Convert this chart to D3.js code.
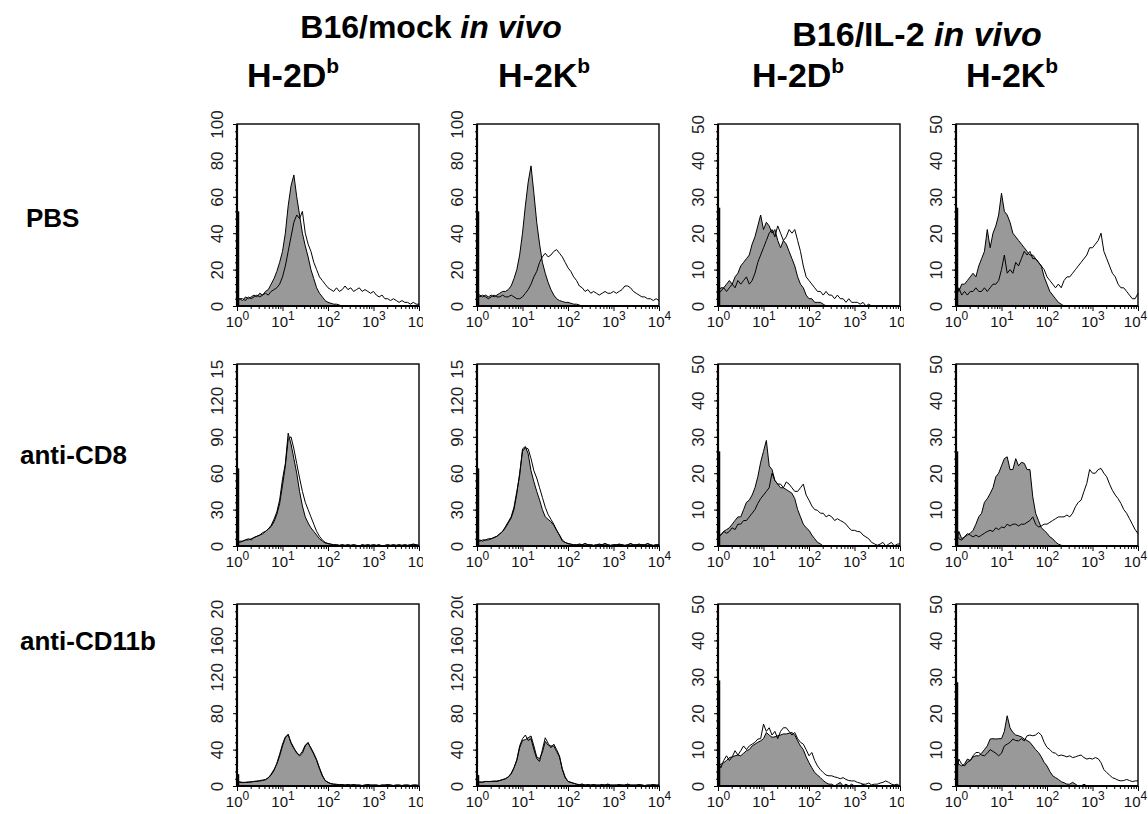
<!DOCTYPE html>
<html>
<head>
<meta charset="utf-8">
<script src="https://cdn.jsdelivr.net/npm/d3@7"></script>
<style>
  body { margin: 0; background: #fff; }
</style>
</head>
<body>
<script>
// ---- labels ----
const groupTitles = ["B16/mock", "B16/IL-2"];
const columnMarkers = ["H-2D", "H-2K", "H-2D", "H-2K"];
const rowLabels = ["PBS", "anti-CD8", "anti-CD11b"];

// ---- axes ----
const xTicks = [1, 10, 100, 1000, 10000];
const yTicks50 = [0, 10, 20, 30, 40, 50];
const yTicks100 = [0, 20, 40, 60, 80, 100];
const yTicks150 = [0, 30, 60, 90, 120, 150];
const yTicks200 = [0, 40, 80, 120, 160, 200];

// histogram channels, 16 per decade, 10^0 .. 10^4
const channels = d3.range(65).map(i => Math.pow(10, i / 16));

// ---- counts (gray = filled, line = open) ----
// PBS
const fillPbsMockD = [3,4,3,5,4,5,6,5, 7,6,8,9,12,15,19,24, 30,40,55,66,72,60,50,40, 33,27,20,15,10,7,5,3, 2,1.5,1,1,0.5,0,0,0, 0,0,0,0,0,0,0,0, 0,0,0,0,0,0,0,0, 0,0,0,0,0,0,0,0,0];
const linePbsMockD = [3,4,4,3,5,4,5,6, 5,6,7,6,8,9,10,12, 16,22,30,38,46,50,48,52, 40,34,30,24,20,16,14,12, 10,9,8,10,8,9,11,9, 10,8,9,10,8,9,8,7, 8,6,5,6,4,4,3,4, 3,2,3,2,2,1,2,1,1];
const fillPbsMockK = [7,6,5,6,5,6,5,6, 7,8,8,9,11,15,20,28, 40,55,68,77,62,46,34,24, 18,13,9,6,4,3,2.5,2, 2,1.5,1,1,0.5,0,0,0, 0,0,0,0,0,0,0,0, 0,0,0,0,0,0,0,0, 0,0,0,0,0,0,0,0,0];
const linePbsMockK = [6,5,6,5,4,5,6,5, 5,6,5,5,6,5,4,4, 5,7,9,12,16,19,24,27, 29,27,28,30,31,29,27,24, 21,19,16,14,11,10,8,9, 7,8,7,6,7,8,7,7, 8,7,8,9,11,11,10,8, 7,6,5,5,4,4,3,4,3];
const fillPbsIl2D = [4,5,5,6,7,6,8,9, 11,12,13,14,17,19,22,25, 21,23,22,20,21,18,16,18, 17,15,13,11,8,6,5,3, 2,2,1,1,1,0.5,0,0, 0,0,0,0,0,0,0,0, 0,0,0,0,0,0,0,0, 0,0,0,0,0,0,0,0,0];
const linePbsIl2D = [4,4,5,4,5,6,5,7, 6,7,8,6,7,9,12,14, 16,18,20,21,19,22,20,18, 19,21,20,21,18,15,11,8, 7,6,5,4,4,3,4,3, 3,2,3,2,2,1,2,1, 1,1,0.5,1,0,0.5,0,0, 0,0,0,0,0,0,0,0,0];
const fillPbsIl2K = [5,4,6,6,7,8,9,8, 11,13,15,21,16,20,22,25, 31,26,25,23,20,19,18,17, 16,15,14,14,13,12,11,8, 6,4,3,2,1,0.5,0,0, 0,0,0,0,0,0,0,0, 0,0,0,0,0,0,0,0, 0,0,0,0,0,0,0,0,0];
const linePbsIl2K = [2,5,3,4,3,4,4,5, 4,4,5,4,5,6,6,7, 10,14,9,10,9,12,11,13, 15,14,15,13,13,12,11,10, 8,7,6,5,6,5,7,8, 8,9,10,11,12,13,14,16, 16,17,18,20,15,13,11,9, 8,6,5,5,4,3,2,2,3.5];
// anti-CD8
const fillCd8MockD = [4,3,4,5,5,6,7,8, 9,10,12,14,17,22,28,38, 55,68,93,84,72,60,45,33, 24,19,15,12,9,6,4,2.5, 2,1.5,1,1,0.5,1,0.5,1, 0.5,1,0.5,0,1,0.5,1,0.5, 1,0.5,1,0,0.5,1,0.5,1, 0.5,1,0.5,1,0.5,1,1.5,1,0.5];
const lineCd8MockD = [3,4,4,5,6,5,7,8, 9,11,12,14,16,20,26,35, 50,66,88,90,80,68,56,45, 36,30,24,18,12,8,5,3, 2,1.5,1,1,0.5,1,0.5,1, 0.5,1,0.5,0,1,0.5,1,0.5, 1,0.5,1,0,0.5,1,0.5,1, 0.5,1,0.5,1,0.5,1,1.5,1,0.5];
const fillCd8MockK = [4,5,4,5,5,6,7,8, 10,12,16,20,24,32,45,58, 80,82,76,62,53,45,38,30, 24,22,20,17,13,9,4,3, 2,1.5,1,1,1.5,1,2,1, 1,0.5,1,1.5,1,2,1,0.5, 1,1,1.5,1,0.5,1,2,1, 1,1.5,1,1,2,1,0.5,1,1];
const lineCd8MockK = [4,4,5,5,6,6,7,8, 10,12,15,19,23,30,43,60, 78,81,80,72,62,56,48,40, 32,26,22,18,13,9,5,3, 2,1.5,1,1,1.5,1,2,1, 1,0.5,1,1.5,1,2,1,0.5, 1,1,1.5,1,0.5,1,2,1, 1,1.5,1,1,2,1,0.5,1,1];
const fillCd8Il2D = [3.4,3,4,4.5,5,6,7,8, 8,10,12,12.6,14,16,19,23, 26,29,22,21,18,17,16,16, 15.5,15,14.5,13,10,8,6,5, 4.3,3,2,1,0.6,0,0,0, 0,0,0,0,0,0,0,0, 0,0,0,0,0,0,0,0, 0,0,0,0,0,0,0,0,0];
const lineCd8Il2D = [2.5,3,4,3.5,4,5,4.5,6, 6,7,7,8,9,10,11.7,13, 14,15,16,20,18,17,17,16, 17.6,17,16,15,15,16,17,14, 12.6,11,10,9.8,9,9,8,8.5, 8,7,7.5,7,6.6,6,5,4.3, 4.3,4,3.9,3,2.5,2,1,0.6, 0.2,0.5,1,0,0.5,1,0,0.5,0.6];
const fillCd8Il2K = [0.6,4,2,2.5,3,3.5,4.3,6, 8,9,12,13,14.4,16,19,20, 22,24,24.5,21,21,24,22,23, 22.7,21,21,13.5,9,7,5,4.3, 3.5,2.5,2,1.1,0.5,0.2,0,0, 0,0,0,0,0,0,0,0, 0,0,0,0,0,0,0,0, 0,0,0,0,0,0,0,0,0];
const lineCd8Il2K = [3.4,2,1.6,2.5,3.4,3,2.5,3, 2.5,3,3.5,4,4.3,4,5,4.5, 5.2,5,6,5.5,6,6,5.5,6, 6,6.5,7,8,6,5.2,5.5,6, 6,6.5,7,7.5,8,8,8,8.5, 8,9,10.8,12,12.6,15,17.2,21, 20,20,21,21.3,20,19,17,15.3, 14,13,11.7,10,9,7.5,6,4.5,3.4];
// anti-CD11b
const fillCd11bMockD = [5.5,4,3.7,4,4,4.5,5,5.5, 5.5,6,7,9,13,18,24,33, 44,53,57,47,41,37,33,36, 44,48,41,35,28,19,11,6, 4,2.6,2,1.8,1.5,1.5,1,1.5, 1,1.5,1,1,0.5,1,1.5,1, 1,1,0.5,1,1,1.5,1,0.5, 1,1,0.5,1,1,0.5,1,1,0.5];
const lineCd11bMockD = [5,4.5,4,4,4.5,4.5,5,5, 6,6.5,7,9,12,17,25,35, 46,54,56,48,42,36,34,38, 45,47,42,36,29,20,12,6, 4,2.6,2,1.8,1.5,1.5,1,1.5, 1,1.5,1,1,0.5,1,1.5,1, 1,1,0.5,1,1,1.5,1,0.5, 1,1,0.5,1,1,0.5,1,1,0.5];
const fillCd11bMockK = [4.8,4,4.5,5,4.8,5,5,5.5, 6,7,8,10,14,20,28,42, 50,51,53,55,44,32,30,37, 49,45,44,44,38,32,19,10, 5,4,3,2,1.5,2,1,1.5, 1,1.5,1,1,1.5,1,2,1, 1,1,1.5,1,1,2,1,1, 1,1.5,1,0.5,1,1,1.5,1,1];
const lineCd11bMockK = [4.5,4.5,4,5,5,5,5.5,5, 6,7,8,10,13,20,29,44, 52,56,50,52,40,30,27,40, 53,47,42,46,40,33,18,9, 5,4,3,2,1.5,2,1,1.5, 1,1.5,1,1,1.5,1,2,1, 1,1,1.5,1,1,2,1,1, 1,1.5,1,0.5,1,1,1.5,1,1];
const fillCd11bIl2D = [5.5,6,6.4,7,7.8,8,8.3,8.5, 8.3,9,9.7,10,11,11.5,12,12.4, 13,14.7,14,13.4,13.5,13.8,14,14.3, 14.3,14.5,14.7,14,12.4,11,10,8, 6.4,5,3.7,3,2.3,1.5,0.9,0.5, 0.5,0,0.5,1,0,0.5,0,0.5, 0,0,0,0.5,0,0,0,0, 0,0,0,0,0,0,0,0,0];
const lineCd11bIl2D = [6.4,5,7,8.3,7,8,9.7,8.5, 9.7,11,10,11,11.5,12,12.9,13, 17,15,16,14,15,13,15,16, 16,15,14,14.7,13,12,11.5,10, 8.3,9.2,7,5.5,4.5,3.7,3,2.8, 2.8,2.5,2.3,2,2.3,1.8,1.5,1.4, 1.4,1,0.8,0.5,0.5,0.8,0.3,0.5, 0.5,0.8,1,1.4,1,0.5,0.3,0.5,0];
const fillCd11bIl2K = [7.4,6,5.5,6,7.4,7,8,8.3, 8.3,9,10,11,12.9,13,12.9,13, 13,15,19.3,16,14.7,14,13.8,13.5, 12.9,12.5,12,11,10,9.2,8,6.5, 5.5,4,2.8,2.3,1.8,1.2,0.9,0.5, 0.5,1,0.5,0,0,0.5,0,0, 0,0,0,0,0,0,0,0, 0,0,0,0,0,0,0,0,0];
const lineCd11bIl2K = [2.8,7.4,6,5.5,6.5,7,8.3,9.2, 9.2,8.5,8.3,9,10,9.5,9,8.3, 9,11,11.5,12,12.9,12.5,12.4,13, 12.4,13.8,14,13.8,14,14.7,14,12, 10.6,10,9.2,9,8.3,8.5,8.3,8, 8.3,7.8,8,8.3,8.5,7.8,7.4,7.6, 7.4,7.8,7.5,6.4,4.5,3.7,3,2.3, 2,1.6,1.4,1.5,1.8,1.5,1.2,1.4,1.4];

// pile-up in the first channel (drawn on the left axis)
const firstChannel = [[52, 52, 27, 27], [64, 64, 26, 26], [13, 12, 29, 28.5]];

const fills = [
  [fillPbsMockD, fillPbsMockK, fillPbsIl2D, fillPbsIl2K],
  [fillCd8MockD, fillCd8MockK, fillCd8Il2D, fillCd8Il2K],
  [fillCd11bMockD, fillCd11bMockK, fillCd11bIl2D, fillCd11bIl2K]
];
const lines = [
  [linePbsMockD, linePbsMockK, linePbsIl2D, linePbsIl2K],
  [lineCd8MockD, lineCd8MockK, lineCd8Il2D, lineCd8Il2K],
  [lineCd11bMockD, lineCd11bMockK, lineCd11bIl2D, lineCd11bIl2K]
];
const yTicksFor = [
  [yTicks100, yTicks100, yTicks50, yTicks50],
  [yTicks150, yTicks150, yTicks50, yTicks50],
  [yTicks200, yTicks200, yTicks50, yTicks50]
];

// ---- layout ----
const width = 1148, height = 814;
const colX = [237, 477, 718, 956];
const rowY = [124, 364, 604];
const pw = 182, ph = 182;
// how much of the top y label / last x label survives (the source tiles were cropped)
const yLabelRoom = [[20, 20, 20, 20], [5, 5, 20, 20], [5, 8, 20, 20]];
const xLabelRoom = [4, 20, 4, 20];

const font = "'Liberation Sans', Arial, Helvetica, sans-serif";

const svg = d3.select("body").append("svg")
  .attr("width", width)
  .attr("height", height)
  .attr("viewBox", [0, 0, width, height])
  .style("font-family", font);

svg.append("rect").attr("width", width).attr("height", height).attr("fill", "#fff");

// group titles
const titleCenters = [431, 917];
const titleBaselines = [38, 46];
const titleSizes = [32, 34];
groupTitles.forEach((t, i) => {
  const txt = svg.append("text")
    .attr("x", titleCenters[i])
    .attr("y", titleBaselines[i])
    .attr("text-anchor", "middle")
    .attr("font-size", titleSizes[i])
    .attr("font-weight", "bold");
  txt.append("tspan").text(t + " ");
  txt.append("tspan").attr("font-style", "italic").text("in vivo");
});

// column markers with superscript b
const markerLeft = [247, 498, 752, 966];
columnMarkers.forEach((m, i) => {
  const txt = svg.append("text")
    .attr("x", markerLeft[i])
    .attr("y", 87)
    .attr("font-size", 34)
    .attr("font-weight", "bold");
  txt.append("tspan").text(m);
  txt.append("tspan").attr("font-size", 21).attr("dy", -14).text("b");
});

// row labels
const rowBaselines = [227, 464, 650];
const rowLeft = [26, 20, 20];
rowLabels.forEach((r, i) => {
  svg.append("text")
    .attr("x", rowLeft[i])
    .attr("y", rowBaselines[i])
    .attr("font-size", 26)
    .attr("font-weight", "bold")
    .text(r);
});

const xScale = d3.scaleLog().domain([1, 1e4]).range([0, pw]);
const xMinor = [];
xTicks.slice(0, -1).forEach(d => { for (let k = 2; k < 10; k++) xMinor.push(d * k); });

let clipId = 0;

for (let r = 0; r < 3; r++) {
  for (let c = 0; c < 4; c++) {
    const ticks = yTicksFor[r][c];
    const yMax = ticks[ticks.length - 1];
    const yScale = d3.scaleLinear().domain([0, yMax]).range([ph, 0]);
    const step = ticks[1] - ticks[0];
    const yMinor = d3.range(0, yMax + step / 10, step / 5);

    const g = svg.append("g").attr("transform", `translate(${colX[c]},${rowY[r]})`);

    const area = d3.area()
      .x((d, i) => xScale(channels[i]))
      .y0(ph)
      .y1(d => yScale(d));
    const line = d3.line()
      .x((d, i) => xScale(channels[i]))
      .y(d => yScale(d));

    g.append("path")
      .datum(fills[r][c])
      .attr("d", area)
      .attr("fill", "#999")
      .attr("stroke", "#000")
      .attr("stroke-width", 1)
      .attr("stroke-linejoin", "round");

    g.append("path")
      .datum(lines[r][c])
      .attr("d", line)
      .attr("fill", "none")
      .attr("stroke", "#000")
      .attr("stroke-width", 1)
      .attr("stroke-linejoin", "round");

    // first channel pile-up
    g.append("line")
      .attr("x1", xScale(1) + 1).attr("x2", xScale(1) + 1)
      .attr("y1", yScale(0)).attr("y2", yScale(firstChannel[r][c]))
      .attr("stroke", "#000")
      .attr("stroke-width", 2.5);

    // frame
    g.append("rect")
      .attr("width", pw).attr("height", ph)
      .attr("fill", "none")
      .attr("stroke", "#000")
      .attr("stroke-width", 1.4);

    // y axis
    g.append("g")
      .call(d3.axisLeft(yScale).tickValues(yMinor).tickSize(2).tickFormat(""))
      .call(a => a.select(".domain").remove());

    const yid = "yclip" + (clipId++);
    g.append("clipPath").attr("id", yid)
      .append("rect")
      .attr("x", -45).attr("y", -yLabelRoom[r][c])
      .attr("width", 45).attr("height", ph + yLabelRoom[r][c] + 20);

    g.append("g")
      .attr("clip-path", `url(#${yid})`)
      .call(d3.axisLeft(yScale).tickValues(ticks).tickSize(4).tickFormat(d3.format("d")))
      .call(a => a.select(".domain").remove())
      .call(a => a.selectAll(".tick line").attr("stroke", "#000"))
      .call(a => a.selectAll(".tick text")
        .attr("transform", "rotate(-90)")
        .attr("x", 0)
        .attr("y", -14)
        .attr("dy", 0)
        .attr("text-anchor", "middle")
        .attr("fill", "#222")
        .style("font-size", "17px")
        .style("font-family", font));

    g.append("line")
      .attr("x1", 0).attr("x2", 0).attr("y1", 0).attr("y2", ph + 1)
      .attr("stroke", "#000").attr("stroke-width", 2.2);

    // x axis
    const gx = g.append("g").attr("transform", `translate(0,${ph})`);
    gx.append("g")
      .call(d3.axisBottom(xScale).tickValues(xMinor).tickSize(3).tickFormat(""))
      .call(a => a.select(".domain").remove());

    const xid = "xclip" + (clipId++);
    gx.append("clipPath").attr("id", xid)
      .append("rect")
      .attr("x", -30).attr("y", -2)
      .attr("width", pw + 30 + xLabelRoom[c]).attr("height", 40);

    gx.append("g")
      .attr("clip-path", `url(#${xid})`)
      .call(d3.axisBottom(xScale).tickValues(xTicks).tickSize(5).tickFormat(""))
      .call(a => a.select(".domain").remove())
      .call(a => a.selectAll(".tick text").remove())
      .call(a => a.selectAll(".tick").each(function(d) {
        const last = d === xTicks[xTicks.length - 1] && c === 3;
        const t = d3.select(this).append("text")
          .attr("y", 21)
          .attr("x", last ? -3 : 0)
          .attr("text-anchor", "middle")
          .attr("fill", "#111")
          .style("font-size", "15px");
        t.append("tspan").text("10");
        t.append("tspan").attr("dy", -7).style("font-size", "12px").text(Math.round(Math.log10(d)));
      }));

    gx.append("line")
      .attr("x1", -1).attr("x2", pw).attr("y1", 0).attr("y2", 0)
      .attr("stroke", "#000").attr("stroke-width", 2.2);
  }
}
</script>
</body>
</html>
